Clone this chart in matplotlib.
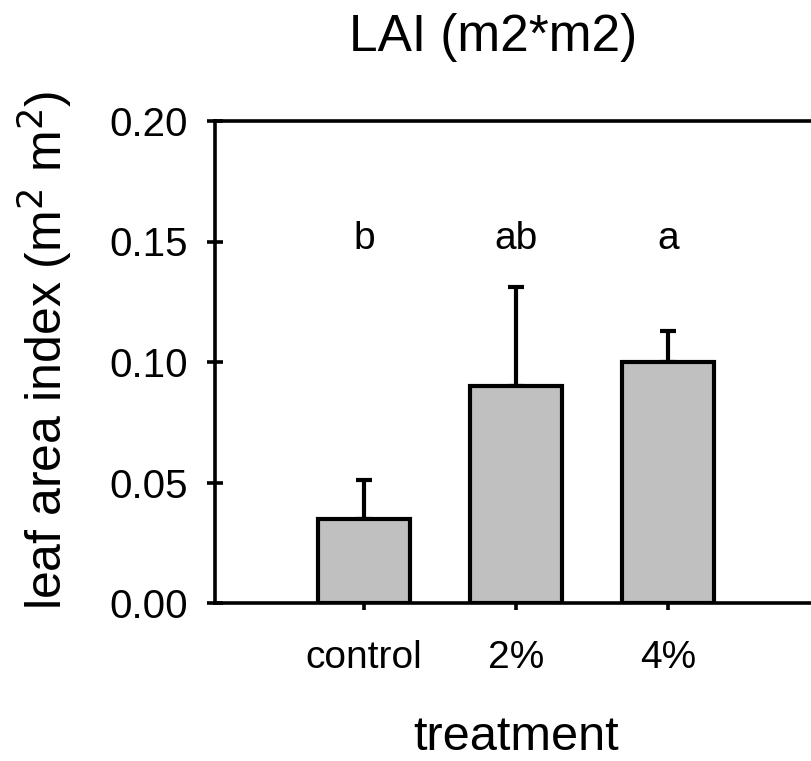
import numpy as np
import matplotlib
matplotlib.use("Agg")
import matplotlib.pyplot as plt

plt.rcParams['font.family'] = ['Liberation Sans', 'DejaVu Sans']

# data
treatments = ["control", "2%", "4%"]
lai_mean = [0.035, 0.090, 0.100]
lai_err = [0.016, 0.041, 0.013]
letters = ["b", "ab", "a"]
yticks = [0.00, 0.05, 0.10, 0.15, 0.20]

fig = plt.figure(figsize=(8.11, 7.61), dpi=100)
ax = fig.add_axes([215 / 811, 158 / 761, 596 / 811, 482 / 761])

x = np.arange(len(treatments))
ax.bar(x, lai_mean, width=0.6, color="#c0c0c0", edgecolor="black",
       linewidth=3, zorder=2)
ax.errorbar(x, lai_mean, yerr=[np.zeros(len(lai_err)), lai_err], fmt="none",
            ecolor="black", elinewidth=3, capsize=6, capthick=3, zorder=1)

for xi, lab in zip(x, letters):
    ax.text(xi, 0.151, lab, ha="center", va="center", fontsize=28)

ax.set_xlim(-0.98, 2.94)
ax.set_ylim(0, 0.2)
ax.set_yticks(yticks)
ax.set_yticklabels([f"{v:.2f}" for v in yticks])
ax.set_xticks(x)
ax.set_xticklabels(treatments)

for side in ["left", "bottom", "top"]:
    ax.spines[side].set_linewidth(2.6)
ax.spines["right"].set_visible(False)

ax.tick_params(axis="y", direction="inout", length=11, width=2.6,
               labelsize=29, pad=14)
ax.tick_params(axis="x", direction="out", length=5, width=2.6,
               labelsize=28, pad=22)

fig.text(493 / 811, 1 - 37 / 761, "LAI (m2*m2)", ha="center", va="center",
         fontsize=37)
fig.text(516 / 811, 1 - 750 / 761, "treatment", ha="center", va="baseline",
         fontsize=35)
fig.text(45 / 811, 1 - 350 / 761, "leaf area index (m$^2$ m$^2$)",
         ha="center", va="center", rotation=90, fontsize=36)

fig.savefig("out.png", dpi=100)
